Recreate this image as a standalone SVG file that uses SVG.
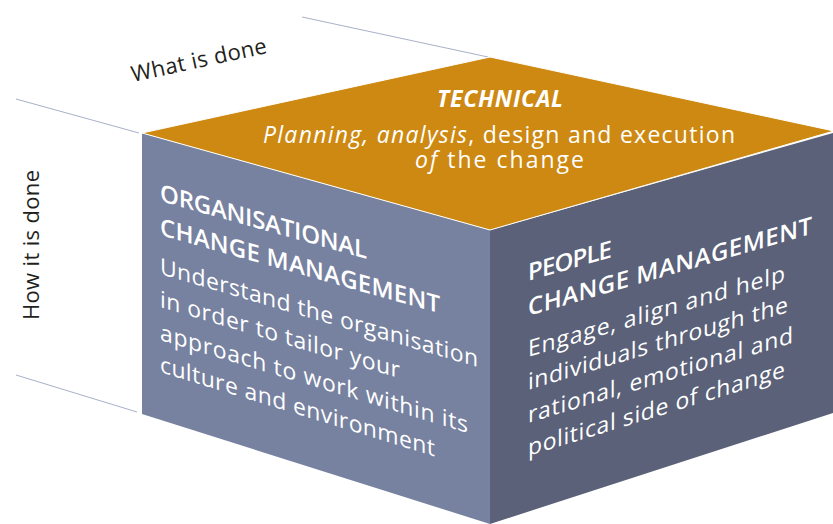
<svg xmlns="http://www.w3.org/2000/svg" width="833" height="524" viewBox="0 0 833 524">
  <style>
    .guide { stroke: #a9b1c9; stroke-width: 1; fill: none; }
    .label { font-family: "Open Sans", "Noto Sans", "Liberation Sans", sans-serif; font-size: 22px; fill: #231f20; }
    .head { font-family: "Open Sans", "Noto Sans", "Liberation Sans", sans-serif; font-size: 24px; font-weight: 600; fill: #ffffff; }
    .body { font-family: "Open Sans", "Noto Sans", "Liberation Sans", sans-serif; font-size: 23px; fill: #ffffff; }
    .top { font-family: "Open Sans", "Noto Sans", "Liberation Sans", sans-serif; font-size: 23px; fill: #ffffff; }
    .it { font-style: italic; }
  </style>

  <rect width="833" height="524" fill="#ffffff"/>

  <!-- guide lines running off the cube edges -->
  <g id="connectors">
    <line class="guide" x1="302" y1="17" x2="488" y2="57"/>
    <line class="guide" x1="16" y1="99" x2="139" y2="133"/>
    <line class="guide" x1="16" y1="375" x2="137" y2="412"/>
  </g>

  <!-- axis labels -->
  <g id="label-what">
    <text class="label" transform="translate(133 82) rotate(-12.2)" textLength="138" lengthAdjust="spacing">What is done</text>
  </g>
  <g id="label-how">
    <text class="label" transform="translate(39 320) rotate(-90)" textLength="150" lengthAdjust="spacing">How it is done</text>
  </g>

  <!-- left face: organisational -->
  <g id="organisational">
    <polygon points="142,133 490,230 490,524 142,414" fill="#7782a0"/>
    <text class="head" transform="matrix(1 0.28 0 1 160 201)" textLength="207" lengthAdjust="spacing">ORGANISATIONAL</text>
    <text class="head" transform="matrix(1 0.28 0 1 160 235)" textLength="280" lengthAdjust="spacing">CHANGE MANAGEMENT</text>
    <text class="body" transform="matrix(1 0.293 0 1 160 274)" textLength="318" lengthAdjust="spacing">Understand the organisation</text>
    <text class="body" transform="matrix(1 0.297 0 1 160 307)" textLength="240" lengthAdjust="spacing">in order to tailor your</text>
    <text class="body" transform="matrix(1 0.302 0 1 160 340)" textLength="308" lengthAdjust="spacing">approach to work within its</text>
    <text class="body" transform="matrix(1 0.307 0 1 160 372)" textLength="275" lengthAdjust="spacing">culture and environment</text>
  </g>

  <!-- right face: people -->
  <g id="people">
    <polygon points="490,230 833,133 833,413 490,524" fill="#5a6178"/>
    <text class="head" transform="matrix(1 -0.285 0 1 528 281)" textLength="84" lengthAdjust="spacing">PEOPLE</text>
    <text class="head" transform="matrix(1 -0.29 0 1 528 316)" textLength="284" lengthAdjust="spacing">CHANGE MANAGEMENT</text>
    <text class="body" transform="matrix(1 -0.295 0 1 528 357)" textLength="257" lengthAdjust="spacing">Engage, align and help</text>
    <text class="body" transform="matrix(1 -0.3 0 1 528 390)" textLength="260" lengthAdjust="spacing">individuals through the</text>
    <text class="body" transform="matrix(1 -0.303 0 1 528 423)" textLength="265" lengthAdjust="spacing">rational, emotional and</text>
    <text class="body" transform="matrix(1 -0.307 0 1 528 456)" textLength="257" lengthAdjust="spacing">political side of change</text>
  </g>

  <!-- top face: technical -->
  <g id="technical">
    <polygon points="142,133 490,57 834,131 490,230" fill="#cd8912" stroke="#ffffff" stroke-width="1"/>
    <text class="top it" x="437" y="107" font-weight="700" textLength="126" lengthAdjust="spacing">TECHNICAL</text>
    <text class="top" x="263" y="143" textLength="472" lengthAdjust="spacing"><tspan class="it">Planning, analysis</tspan>, design and execution</text>
    <text class="top" x="415" y="168" textLength="169" lengthAdjust="spacing"><tspan class="it">of</tspan> the change</text>
  </g>
</svg>
